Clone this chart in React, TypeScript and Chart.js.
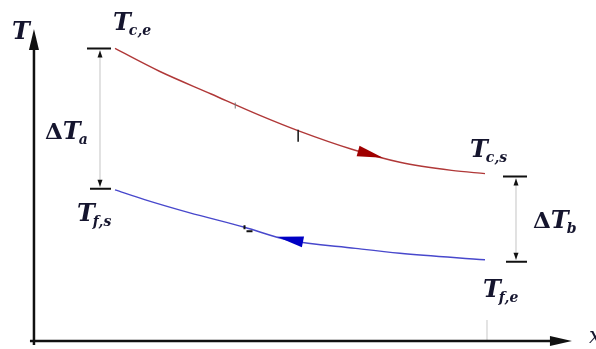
import React, { useEffect, useRef } from "react";
import { Chart, registerables } from "chart.js";

Chart.register(...registerables);

// Position along the exchanger (0 = left end, 10 = right end)
const hotX = [0, 1.2, 2.6, 3.9, 5, 6.4, 7.7, 9.1, 10];
// Hot fluid temperature (arbitrary units)
const hotT = [90, 83, 76, 69.5, 64.5, 59, 55, 52.5, 51.5];

const coldX = [0, 0.8, 2, 3.5, 4.7, 6.5, 7.7, 10];
const coldT = [46.5, 43.5, 39.5, 35, 31, 28.5, 27, 25];

// Labels
const axisLabels = ["T", "x"];
const hotLabels = [{ main: "T", sub: "c,e" }, { main: "T", sub: "c,s" }];
const coldLabels = [{ main: "T", sub: "f,s" }, { main: "T", sub: "f,e" }];
const deltaLabels = [{ main: "T", sub: "a" }, { main: "T", sub: "b" }];

const X_MIN = -3.108;
const X_MAX = 13.0;
const Y_MIN = -2.46;
const Y_MAX = 104.92;

const TEXT = "#15152e";
const HOT = "#b03838";
const COLD = "#4848cc";
const HOT_HEAD = "#a00000";
const COLD_HEAD = "#0000c4";
const FONT = '"DejaVu Serif"';

function interp(xs: number[], ys: number[], v: number) {
  for (let i = 0; i < xs.length - 1; i++) {
    if (v >= xs[i] && v <= xs[i + 1]) {
      const t = (v - xs[i]) / (xs[i + 1] - xs[i]);
      return ys[i] + t * (ys[i + 1] - ys[i]);
    }
  }
  return ys[ys.length - 1];
}

function drawMath(ctx: CanvasRenderingContext2D, x: number, y: number, main: string, sub: string, delta: boolean) {
  ctx.save();
  ctx.fillStyle = TEXT;
  ctx.textAlign = "left";
  ctx.textBaseline = "alphabetic";
  let cx = x;
  if (delta) {
    ctx.font = `bold 23px ${FONT}`;
    ctx.fillText("\u0394", cx, y);
    cx += ctx.measureText("\u0394").width;
  }
  ctx.font = `italic bold 24px ${FONT}`;
  ctx.fillText(main, cx, y);
  cx += ctx.measureText(main).width;
  if (sub) {
    ctx.font = `italic bold 14px ${FONT}`;
    ctx.fillText(sub, cx - 2, y + 5);
  }
  ctx.restore();
}

function arrowHead(ctx: CanvasRenderingContext2D, tx: number, ty: number, bx: number, by: number, halfW: number, color: string) {
  const dx = tx - bx, dy = ty - by;
  const len = Math.hypot(dx, dy) || 1;
  const nx = -dy / len, ny = dx / len;
  ctx.save();
  ctx.fillStyle = color;
  ctx.beginPath();
  ctx.moveTo(tx, ty);
  ctx.lineTo(bx + nx * halfW, by + ny * halfW);
  ctx.lineTo(bx - nx * halfW, by - ny * halfW);
  ctx.closePath();
  ctx.fill();
  ctx.restore();
}

const annotPlugin = {
  id: "annot",
  afterDatasetsDraw(chart: any) {
    const ctx: CanvasRenderingContext2D = chart.ctx;
    const xs = chart.scales.x, ys = chart.scales.y;
    const px = (v: number) => xs.getPixelForValue(v);
    const py = (v: number) => ys.getPixelForValue(v);
    ctx.save();

    // faint guide ticks near x-axis
    ctx.strokeStyle = "#c8c8c8";
    ctx.lineWidth = 1;
    ctx.beginPath();
    ctx.moveTo(px(hotX[hotX.length - 1]) + 2, py(0) - 21);
    ctx.lineTo(px(hotX[hotX.length - 1]) + 2, py(0));
    ctx.stroke();

    // axes
    const ax = px(-2.19);
    const ay = py(0);
    ctx.strokeStyle = "#111";
    ctx.lineWidth = 2.5;
    ctx.beginPath();
    ctx.moveTo(ax, py(-1.25));
    ctx.lineTo(ax, py(96) + 15);
    ctx.moveTo(ax - 4, ay);
    ctx.lineTo(px(12.35) - 15, ay);
    ctx.stroke();
    arrowHead(ctx, ax, py(96), ax, py(96) + 21, 5, "#111");
    arrowHead(ctx, px(12.35), ay, px(12.35) - 22, ay, 5, "#111");

    // axis labels
    ctx.fillStyle = TEXT;
    ctx.font = `italic bold 24px ${FONT}`;
    ctx.textAlign = "left";
    ctx.textBaseline = "alphabetic";
    ctx.fillText(axisLabels[0], ax - 22, py(96) + 10);
    ctx.font = `italic 22px ${FONT}`;
    ctx.fillText(axisLabels[1], px(12.35) + 17, ay + 2);

    // dimension lines
    const dims = [
      { x: px(hotX[0]) - 15, top: py(hotT[0]), bot: py(coldT[0]) - 1 },
      { x: px(hotX[hotX.length - 1]) + 31, top: py(hotT[hotT.length - 1]) + 3, bot: py(coldT[coldT.length - 1]) + 2 },
    ];
    dims.forEach((d) => {
      ctx.strokeStyle = "#c4c4c4";
      ctx.lineWidth = 1;
      ctx.beginPath();
      ctx.moveTo(d.x, d.top + 2);
      ctx.lineTo(d.x, d.bot - 2);
      ctx.stroke();
      ctx.strokeStyle = "#111";
      ctx.lineWidth = 2;
      ctx.beginPath();
      ctx.moveTo(d.x - 13, d.top);
      ctx.lineTo(d.x + 11, d.top);
      ctx.moveTo(d.x - 10, d.bot);
      ctx.lineTo(d.x + 11, d.bot);
      ctx.stroke();
      arrowHead(ctx, d.x, d.top + 2, d.x, d.top + 9, 2.5, "#111");
      arrowHead(ctx, d.x, d.bot - 2, d.x, d.bot - 9, 2.5, "#111");
    });

    // curve direction arrows
    const rt = 7.24, rb = 6.57;
    arrowHead(ctx, px(rt), py(interp(hotX, hotT, rt)), px(rb), py(interp(hotX, hotT, rb)), 5.5, HOT_HEAD);
    const bt = 4.38, bb = 5.08;
    arrowHead(ctx, px(bt), py(interp(coldX, coldT, bt)), px(bb), py(interp(coldX, coldT, bb)), 5.5, COLD_HEAD);

    // small marks on curves
    ctx.strokeStyle = "#111";
    ctx.lineWidth = 1.5;
    const mx = 4.95;
    ctx.beginPath();
    ctx.moveTo(px(mx), py(interp(hotX, hotT, mx)) - 1);
    ctx.lineTo(px(mx), py(interp(hotX, hotT, mx)) + 11);
    ctx.stroke();
    ctx.strokeStyle = "#777";
    ctx.lineWidth = 1;
    const mx2 = 3.25;
    ctx.beginPath();
    ctx.moveTo(px(mx2), py(interp(hotX, hotT, mx2)) - 2);
    ctx.lineTo(px(mx2), py(interp(hotX, hotT, mx2)) + 4);
    ctx.stroke();
    ctx.fillStyle = "#111";
    const cm = 3.5;
    ctx.fillRect(px(cm) - 1, py(interp(coldX, coldT, cm)) - 2, 2, 4);
    ctx.fillRect(px(cm) + 2, py(interp(coldX, coldT, cm)) + 3, 6, 2);

    // labels
    const n = hotX.length - 1, m = coldX.length - 1;
    drawMath(ctx, px(hotX[0]) - 2, py(hotT[0]) - 18, hotLabels[0].main, hotLabels[0].sub, false);
    drawMath(ctx, px(hotX[n]) - 15, py(hotT[n]) - 17, hotLabels[1].main, hotLabels[1].sub, false);
    drawMath(ctx, px(coldX[0]) - 38, py(coldT[0]) + 31, coldLabels[0].main, coldLabels[0].sub, false);
    drawMath(ctx, px(coldX[m]) - 2, py(coldT[m]) + 37, coldLabels[1].main, coldLabels[1].sub, false);
    drawMath(ctx, dims[0].x - 55, (dims[0].top + dims[0].bot) / 2 + 20, deltaLabels[0].main, deltaLabels[0].sub, true);
    drawMath(ctx, dims[1].x + 17, (dims[1].top + dims[1].bot) / 2 + 9, deltaLabels[1].main, deltaLabels[1].sub, true);

    ctx.restore();
  },
};

export default function App() {
  const ref = useRef<HTMLCanvasElement>(null);
  useEffect(() => {
    if (!ref.current) return;
    const chart = new Chart(ref.current, {
      type: "scatter",
      data: {
        datasets: [
          {
            data: hotX.map((x, i) => ({ x, y: hotT[i] })),
            showLine: true,
            borderColor: HOT,
            borderWidth: 1.4,
            pointRadius: 0,
            cubicInterpolationMode: "monotone",
          },
          {
            data: coldX.map((x, i) => ({ x, y: coldT[i] })),
            showLine: true,
            borderColor: COLD,
            borderWidth: 1.4,
            pointRadius: 0,
            cubicInterpolationMode: "monotone",
          },
        ],
      },
      options: {
        animation: false,
        responsive: false,
        events: [],
        layout: { padding: 0, autoPadding: false },
        plugins: { legend: { display: false }, tooltip: { enabled: false }, title: { display: false } },
        scales: {
          x: { type: "linear", display: false, min: X_MIN, max: X_MAX },
          y: { type: "linear", display: false, min: Y_MIN, max: Y_MAX },
        },
      } as any,
      plugins: [annotPlugin],
    });
    return () => chart.destroy();
  }, []);
  return (
    <div style={{ position: "fixed", left: 0, top: 0, width: 596, height: 349, background: "#fff" }}>
      <canvas ref={ref} width={596} height={349} style={{ display: "block" }} />
    </div>
  );
}
